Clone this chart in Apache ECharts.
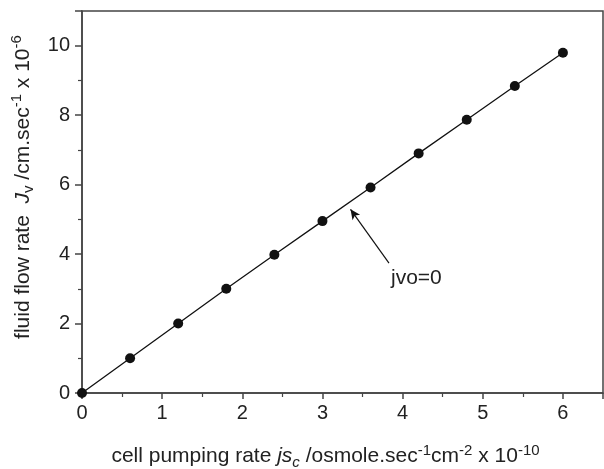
<!DOCTYPE html>
<html>
<head>
<meta charset="utf-8">
<script src="https://cdn.jsdelivr.net/npm/echarts@6/dist/echarts.min.js"></script>
<style>
  html, body { margin: 0; padding: 0; background: #fff; }
</style>
</head>
<body>
<div id="chart" style="width: 604px; height: 469px;"></div>
<script>
// cell pumping rate js_c (x 10^-10)
const pumpRate = [0, 0.6, 1.2, 1.8, 2.4, 3.0, 3.6, 4.2, 4.8, 5.4, 6.0];
// fluid flow rate J_v (x 10^-6)
const flowRate = [0, 1.0, 2.0, 3.0, 3.98, 4.95, 5.92, 6.9, 7.87, 8.84, 9.8];
const xTicks = [0, 1, 2, 3, 4, 5, 6];
const yTicks = [0, 2, 4, 6, 8, 10];
// annotation arrow: from text to the line
const arrowFrom = [3.83, 3.74];
const arrowTo = [3.35, 5.29];
const noteText = "jvo=0";
const notePos = [3.83, 3.31];

const font = "Liberation Sans, Arial, Helvetica, sans-serif";
const ink = "#222";
const axisColor = "#444";

const rich = {
  i: { fontStyle: "italic", fontSize: 21, fontFamily: font, color: ink },
  sub: { fontSize: 15, fontFamily: font, color: ink, verticalAlign: "bottom", padding: [10, 0, 0, 0] },
  isub: { fontSize: 15, fontStyle: "italic", fontFamily: font, color: ink, verticalAlign: "bottom", padding: [10, 0, 0, 0] },
  sup: { fontSize: 15, fontFamily: font, color: ink, verticalAlign: "top", padding: [0, 0, 12, 0] }
};

const points = pumpRate.map((x, i) => [x, flowRate[i]]);

const chart = echarts.init(document.getElementById("chart"));
chart.setOption({
  animation: false,
  grid: {
    left: 82, right: 1, top: 11, bottom: 76,
    outerBoundsMode: "none",
    containLabel: false,
    show: true, borderColor: axisColor, borderWidth: 1.5, backgroundColor: "transparent"
  },
  xAxis: {
    type: "value",
    min: 0, max: 6.5, interval: 1,
    name: "cell pumping rate {i|js}{isub|c} /osmole.sec{sup|-1}cm{sup|-2} x 10{sup|-10}",
    nameLocation: "middle",
    nameGap: 50,
    nameTextStyle: { fontSize: 21, fontFamily: font, color: ink, rich: rich, padding: [0, 34, 0, 0] },
    axisLine: { show: true, onZero: false, lineStyle: { color: axisColor, width: 1.5 } },
    axisTick: { show: true, length: 6, lineStyle: { color: axisColor, width: 1.5 } },
    minorTick: { show: true, splitNumber: 2, length: 4, lineStyle: { color: axisColor, width: 1.2 } },
    splitLine: { show: false },
    axisLabel: {
      fontSize: 20, fontFamily: font, color: ink, margin: 10,
      formatter: v => (xTicks.includes(v) ? String(v) : "")
    }
  },
  yAxis: {
    type: "value",
    min: 0, max: 11, interval: 2,
    name: "fluid flow rate  {i|J}{sub|v} /cm.sec{sup|-1} x 10{sup|-6}",
    nameLocation: "middle",
    nameRotate: 90,
    nameGap: 38,
    nameTextStyle: { fontSize: 21, fontFamily: font, color: ink, rich: rich, padding: [0, 0, 0, 30] },
    axisLine: { show: true, onZero: false, lineStyle: { color: axisColor, width: 1.5 } },
    axisTick: { show: true, length: 7, lineStyle: { color: axisColor, width: 1.5 } },
    minorTick: { show: true, splitNumber: 2, length: 4, lineStyle: { color: axisColor, width: 1.2 } },
    splitLine: { show: false },
    axisLabel: {
      fontSize: 20, fontFamily: font, color: ink, margin: 12,
      formatter: v => (yTicks.includes(v) ? String(v) : "")
    }
  },
  series: [
    {
      type: "line",
      data: points,
      symbol: "circle",
      symbolSize: 10,
      itemStyle: { color: "#111" },
      lineStyle: { color: "#111", width: 1.3 },
      silent: true,
      markLine: {
        silent: true,
        symbol: ["none", "arrow"],
        symbolSize: [7, 10],
        label: { show: false },
        lineStyle: { color: "#111", width: 1.2, type: "solid" },
        data: [[{ coord: arrowFrom }, { coord: arrowTo }]]
      },
      markPoint: {
        silent: true,
        symbol: "circle",
        symbolSize: 0,
        label: {
          show: true, position: "right", distance: 2,
          formatter: noteText, fontSize: 21, fontFamily: font, color: ink
        },
        data: [{ coord: notePos }]
      }
    }
  ]
});
</script>
</body>
</html>
